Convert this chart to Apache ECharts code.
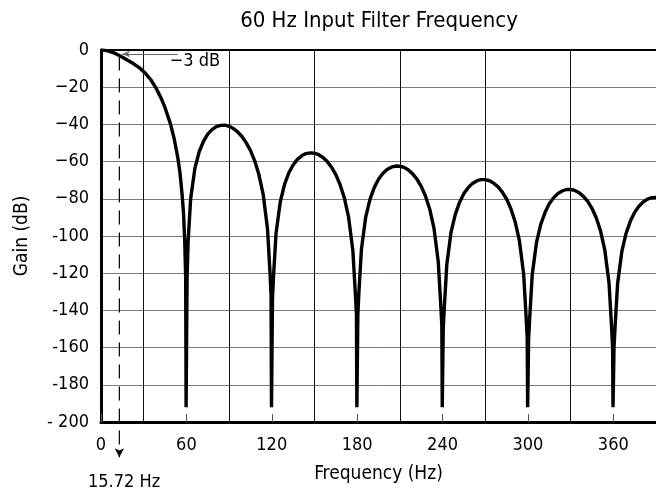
<!DOCTYPE html>
<html>
<head>
<meta charset="utf-8">
<title>60 Hz Input Filter Frequency</title>
<script src="https://cdn.jsdelivr.net/npm/echarts@6/dist/echarts.min.js"></script>
<style>
  html, body { margin: 0; padding: 0; background: #fff; }
  #chart { width: 656px; height: 497px; }
</style>
</head>
<body>
<div id="chart"></div>
<script>
// ---- Data: [frequency Hz, gain dB] ----
const MAIN_LOBE = [[0,0],[3,-0.2],[6,-0.7],[9,-1.5],[12.8,-3],[16,-4.3],[19,-5.6],[23,-7.4],[27,-9.6],[30.9,-12.3],[35,-16],[38.7,-20.5],[42,-25.5],[45,-31],[48.9,-40],[51.5,-48],[54,-58],[55.5,-66],[56.9,-77],[58,-88],[58.8,-102],[59.5,-122],[59.8,-192]];
const LOBE_1 = [[60.2,-192],[60.5,-122],[61.2,-103],[63,-80],[66,-63.5],[69,-54.7],[72,-49.1],[75,-45.2],[78,-42.8],[81,-41.2],[84,-40.5],[87,-40.4],[90,-41],[93,-42.2],[96,-44],[99,-46.5],[102,-49.8],[105,-54],[108,-59.6],[111,-67.1],[114,-77.8],[117,-96.1],[118.8,-120.3],[119.5,-132],[119.8,-192]];
const LOBE_2 = [[120.2,-192],[120.5,-134],[121.2,-122],[123,-98.6],[126,-81.6],[129,-72.2],[132,-66],[135,-61.8],[138,-58.8],[141,-56.9],[144,-55.7],[147,-55.3],[150,-55.5],[153,-56.3],[156,-57.8],[159,-60],[162,-63],[165,-67],[168,-72.4],[171,-79.5],[174,-90],[177,-108],[178.8,-132],[179.5,-142],[179.8,-192]];
const LOBE_3 = [[180.2,-192],[180.5,-142],[181.2,-130.7],[183,-107.2],[186,-89.9],[189,-80.3],[192,-74],[195,-69.5],[198,-66.4],[201,-64.3],[204,-63],[207,-62.4],[210,-62.5],[213,-63.1],[216,-64.5],[219,-66.6],[222,-69.4],[225,-73.3],[228,-78.5],[231,-85.6],[234,-95.9],[237,-113.9],[238.8,-137.9],[239.5,-148],[239.8,-192]];
const LOBE_4 = [[240.2,-192],[240.5,-150],[241.2,-139],[243,-115.3],[246,-97.9],[249,-88.2],[252,-81.8],[255,-77.2],[258,-74],[261,-71.8],[264,-70.4],[267,-69.7],[270,-69.7],[273,-70.3],[276,-71.6],[279,-73.6],[282,-76.4],[285,-80.1],[288,-85.3],[291,-92.3],[294,-102.5],[297,-120.5],[298.8,-144.5],[299.5,-155],[299.8,-192]];
const LOBE_5 = [[300.2,-192],[300.5,-155],[301.2,-144.7],[303,-121],[306,-103.6],[309,-93.8],[312,-87.4],[315,-82.7],[318,-79.5],[321,-77.2],[324,-75.8],[327,-75],[330,-75],[333,-75.5],[336,-76.7],[339,-78.7],[342,-81.4],[345,-85.1],[348,-90.2],[351,-97.2],[354,-107.4],[357,-125.3],[358.8,-149.2],[359.5,-160],[359.8,-192]];
const LOBE_6 = [[360.2,-192],[360.5,-160],[361.2,-149.4],[363,-125.7],[366,-108.3],[369,-98.5],[372,-92],[375,-87.3],[378,-84],[381,-81.7],[384,-80.2],[387,-79.4],[390,-79.3]];

const X_TICKS = [0, 60, 120, 180, 240, 300, 360];
const X_GRID = [30, 90, 150, 210, 270, 330];
const Y_LABELS = ['0', '\u221220', '\u221240', '\u221260', '\u221280', '-100', '-120', '-140', '-160', '-180', '- 200'];

// annotation anchors (data coordinates)
const CUTOFF_LABEL = '15.72 Hz';
const CUTOFF_LINE = [[12.9, -3.5], [12.9, -219]];
const CUTOFF_LABEL_AT = [16.2, -227.5];
const MINUS3_LABEL = '\u22123 dB';
const MINUS3_ARROW = [[54, -2.15], [14.8, -2.15]];
const MINUS3_LABEL_AT = [48.3, -6.2];

const FONT = "'Liberation Sans Narrow', 'DejaVu Sans Condensed', 'Arial Narrow', sans-serif";

const curve = [].concat(MAIN_LOBE, LOBE_1, LOBE_2, LOBE_3, LOBE_4, LOBE_5, LOBE_6);

const chart = echarts.init(document.getElementById('chart'), null, { renderer: 'canvas' });

const option = {
  animation: false,
  backgroundColor: '#fff',
  title: {
    text: '60 Hz Input Filter Frequency',
    left: 374,
    top: 5,
    textAlign: 'center',
    textStyle: { fontFamily: FONT, fontSize: 22, fontWeight: 'normal', color: '#000' }
  },
  grid: { left: 101, right: 0, top: 50, bottom: 75 },
  xAxis: [
    {
      type: 'value', min: 0, max: 390, interval: 60, position: 'bottom',
      name: 'Frequency (Hz)', nameLocation: 'middle', nameGap: 43,
      nameTextStyle: { fontFamily: FONT, fontSize: 19, color: '#000' },
      axisLine: { show: true, onZero: false, lineStyle: { color: '#000', width: 3 } },
      axisTick: { show: true, inside: true, length: 8, customValues: X_TICKS, lineStyle: { color: '#555', width: 1 } },
      axisLabel: { customValues: X_TICKS, margin: 14, fontFamily: FONT, fontSize: 18, color: '#000' },
      splitLine: { show: false }
    },
    {
      type: 'value', min: 0, max: 390, position: 'top',
      axisLine: { show: true, onZero: false, lineStyle: { color: '#000', width: 2 } },
      axisTick: { show: false }, axisLabel: { show: false }, splitLine: { show: false }
    }
  ],
  yAxis: {
    type: 'value', min: -200, max: 0, interval: 20,
    name: 'Gain (dB)', nameLocation: 'middle', nameGap: 69, nameRotate: 90,
    nameTextStyle: { fontFamily: FONT, fontSize: 19, color: '#000' },
    axisLine: { show: true, onZero: false, lineStyle: { color: '#000', width: 3 } },
    axisTick: { show: false },
    axisLabel: {
      margin: 12, fontFamily: FONT, fontSize: 18, color: '#000',
      formatter: v => Y_LABELS[Math.round(-v / 20)]
    },
    splitLine: { show: true, lineStyle: { color: '#7a7a7a', width: 1 } }
  },
  series: [
    {
      // vertical grid lines
      type: 'line', data: [], clip: false, silent: true, z: 1,
      markLine: {
        silent: true, animation: false, symbol: 'none', label: { show: false },
        lineStyle: { color: '#111', width: 1, type: 'solid' },
        data: X_GRID.map(v => ({ xAxis: v }))
      }
    },
    {
      type: 'line', data: curve, showSymbol: false, symbol: 'none', clip: true, z: 3,
      lineStyle: { color: '#000', width: 3.4, join: 'bevel' }
    },
    {
      // 15.72 Hz dashed marker with downward arrow
      type: 'line', data: CUTOFF_LINE, clip: false, silent: true, z: 4,
      showSymbol: true, showAllSymbol: true,
      symbol: (v, p) => (p.dataIndex === 1 ? 'arrow' : 'none'),
      symbolSize: [7, 9], symbolRotate: 180,
      itemStyle: { color: '#000', opacity: 1 },
      lineStyle: { color: '#000', width: 1.2, type: [14, 8] }
    },
    {
      // -3 dB pointer arrow
      type: 'line', data: [], clip: false, silent: true, z: 4,
      markLine: {
        silent: true, animation: false, label: { show: false },
        symbol: ['none', 'arrow'], symbolSize: [5, 8],
        lineStyle: { color: '#666', width: 1, type: 'solid' },
        data: [[{ coord: MINUS3_ARROW[0] }, { coord: MINUS3_ARROW[1] }]]
      }
    },
    {
      type: 'scatter', clip: false, silent: true, z: 5,
      symbol: 'circle', symbolSize: 0.01, itemStyle: { color: '#000', opacity: 1 },
      label: { show: true, fontFamily: FONT, fontSize: 18, color: '#000', opacity: 1, distance: 0, textBorderWidth: 0 },
      data: [
        { value: MINUS3_LABEL_AT, label: { formatter: MINUS3_LABEL, position: 'right' } },
        { value: CUTOFF_LABEL_AT, label: { formatter: CUTOFF_LABEL, position: 'bottom' } }
      ]
    }
  ]
};

chart.setOption(option);
</script>
</body>
</html>
